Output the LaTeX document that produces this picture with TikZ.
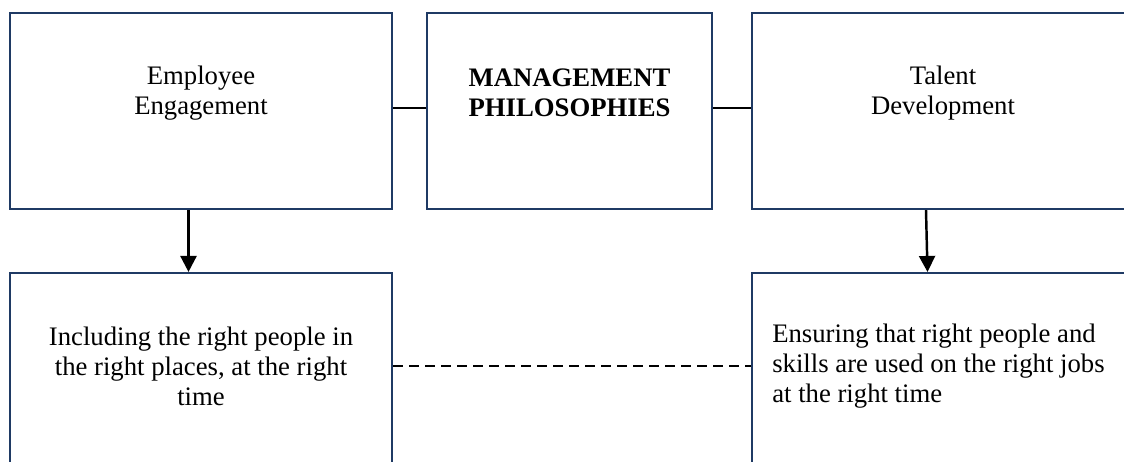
\documentclass[tikz,border=0pt]{standalone}
\usepackage{fontspec}
\setmainfont{Liberation Serif}
\usepackage{tikz}
\usetikzlibrary{arrows.meta}
\definecolor{boxblue}{HTML}{1F3A64}

\begin{document}
\begin{tikzpicture}[
  box/.style={draw=boxblue,line width=1.2pt,minimum width=7.64cm,minimum height=3.92cm,inner sep=0pt},
  txt/.style={align=center,inner sep=0pt,font=\fontsize{15.2pt}{17.1pt}\selectfont},
  link/.style={line width=1.2pt},
  arr/.style={line width=1.4pt,-{Triangle[length=0.32cm,width=0.32cm]}}]
\useasboundingbox (0,0) rectangle (22.48,9.24);
\clip (0,0) rectangle (22.48,9.24);
\node[box] (EE) at (4.02,7.02) {};
\node[box,minimum width=5.7cm] (MP) at (11.39,7.02) {};
\node[box] (TD) at (18.86,7.02) {};
\node[box] (IR) at (4.02,1.82) {};
\node[box] (ER) at (18.86,1.82) {};
\node[txt] (EEt) at ([yshift=0.36cm]EE.center) {Employee\\Engagement};
\node[txt,font=\fontsize{15.2pt}{17.1pt}\selectfont\bfseries] (MPt) at ([yshift=0.37cm]MP.center) {MANAGEMENT\\PHILOSOPHIES};
\node[txt] (TDt) at ([yshift=0.36cm]TD.center) {Talent\\Development};
\node[txt] (IRt) at ([yshift=0.1cm]IR.center) {Including the right people in\\the right places, at the right\\time};
\node[txt,align=left,anchor=west] (ERt) at ([xshift=0.42cm,yshift=0.1cm]ER.west) {Ensuring that right people and\\skills are used on the right jobs\\at the right time};
\draw[link] ([yshift=0.06cm]EE.east) -- ([yshift=0.06cm]MP.west);
\draw[link] ([yshift=0.06cm]MP.east) -- ([yshift=0.06cm]TD.west);
\draw[arr] ([xshift=-0.25cm]EE.south) -- ([xshift=-0.25cm]IR.north);
\draw[arr] ([xshift=-0.34cm]TD.south) -- ([xshift=-0.31cm]ER.north);
\draw[line width=1.5pt,dash pattern=on 0.2cm off 0.12cm] ([yshift=0.1cm]IR.east) -- ([yshift=0.1cm]ER.west);
\end{tikzpicture}
\end{document}
